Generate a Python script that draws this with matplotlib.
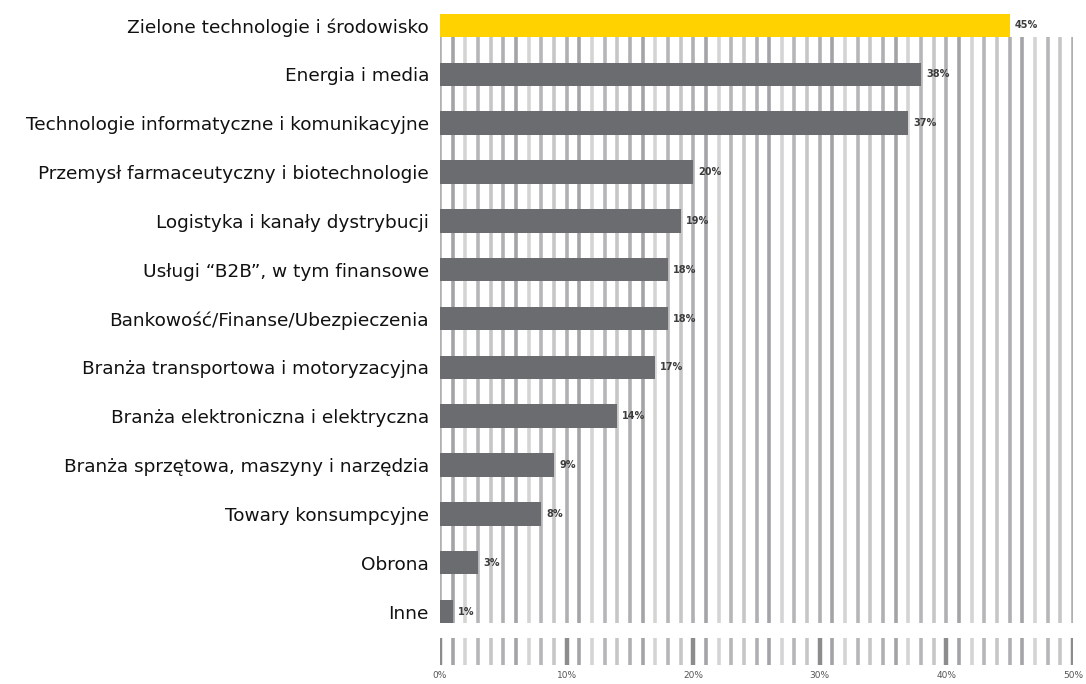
import matplotlib
matplotlib.use("Agg")
import matplotlib.pyplot as plt

categories = [
    "Zielone technologie i środowisko",
    "Energia i media",
    "Technologie informatyczne i komunikacyjne",
    "Przemysł farmaceutyczny i biotechnologie",
    "Logistyka i kanały dystrybucji",
    "Usługi “B2B”, w tym finansowe",
    "Bankowość/Finanse/Ubezpieczenia",
    "Branża transportowa i motoryzacyjna",
    "Branża elektroniczna i elektryczna",
    "Branża sprzętowa, maszyny i narzędzia",
    "Towary konsumpcyjne",
    "Obrona",
    "Inne",
]
values = [45, 38, 37, 20, 19, 18, 18, 17, 14, 9, 8, 3, 1]
tick_values = [0, 10, 20, 30, 40, 50]
tick_labels = ["0%", "10%", "20%", "30%", "40%", "50%"]

W, H, DPI = 1086, 684, 100
fig = plt.figure(figsize=(W / DPI, H / DPI), dpi=DPI)
fig.patch.set_facecolor("white")

x0, x1 = 440, 1073
ax = fig.add_axes([x0 / W, (H - 636) / H, (x1 - x0) / W, 635 / H])
ax.set_xlim(0, 50)
n = len(categories)
ax.set_ylim(n - 0.5, -0.5)
bar_h = 0.48

# striped vertical grid, one line per percentage point
shades = ["#b0b0b4", "#a4a4a8", "#d4d4d4", "#b6b6b9", "#c6c6c6"]
grid_top = 0 + bar_h / 2
grid_bottom = (n - 1) + bar_h / 2
for p in range(0, 51):
    ax.vlines(p, grid_top, grid_bottom, colors=shades[p % len(shades)],
              linewidth=2.6, zorder=1)

colors = ["#FFD200"] + ["#6B6C70"] * (n - 1)
ax.barh(range(n), values, height=bar_h, color=colors, zorder=3)

for i, v in enumerate(values):
    ax.text(v + 0.4, i, f"{v}%", va="center", ha="left", fontsize=7,
            color="#3c3c3c", fontweight="bold", zorder=4)

ax.set_yticks(range(n))
ax.set_yticklabels(categories, fontsize=13.3, color="#111111")
ax.tick_params(axis="y", length=0, pad=8)
ax.set_xticks([])
for s in ax.spines.values():
    s.set_visible(False)

# tick strip along the bottom
ax2 = fig.add_axes([x0 / W, (H - 665) / H, (x1 - x0) / W, 27 / H])
ax2.set_xlim(0, 50)
ax2.set_ylim(0, 1)
for p in range(0, 51):
    c = "#8c8c8c" if p % 10 == 0 else shades[p % len(shades)]
    lw = 3.2 if p % 10 == 0 else 2.6
    ax2.vlines(p, 0, 1, colors=c, linewidth=lw)
ax2.set_yticks([])
ax2.set_xticks(tick_values)
ax2.set_xticklabels(tick_labels, fontsize=6.5, color="#555555")
ax2.tick_params(axis="x", length=0, pad=4)
for s in ax2.spines.values():
    s.set_visible(False)

fig.savefig("out.png", dpi=DPI, facecolor="white")
